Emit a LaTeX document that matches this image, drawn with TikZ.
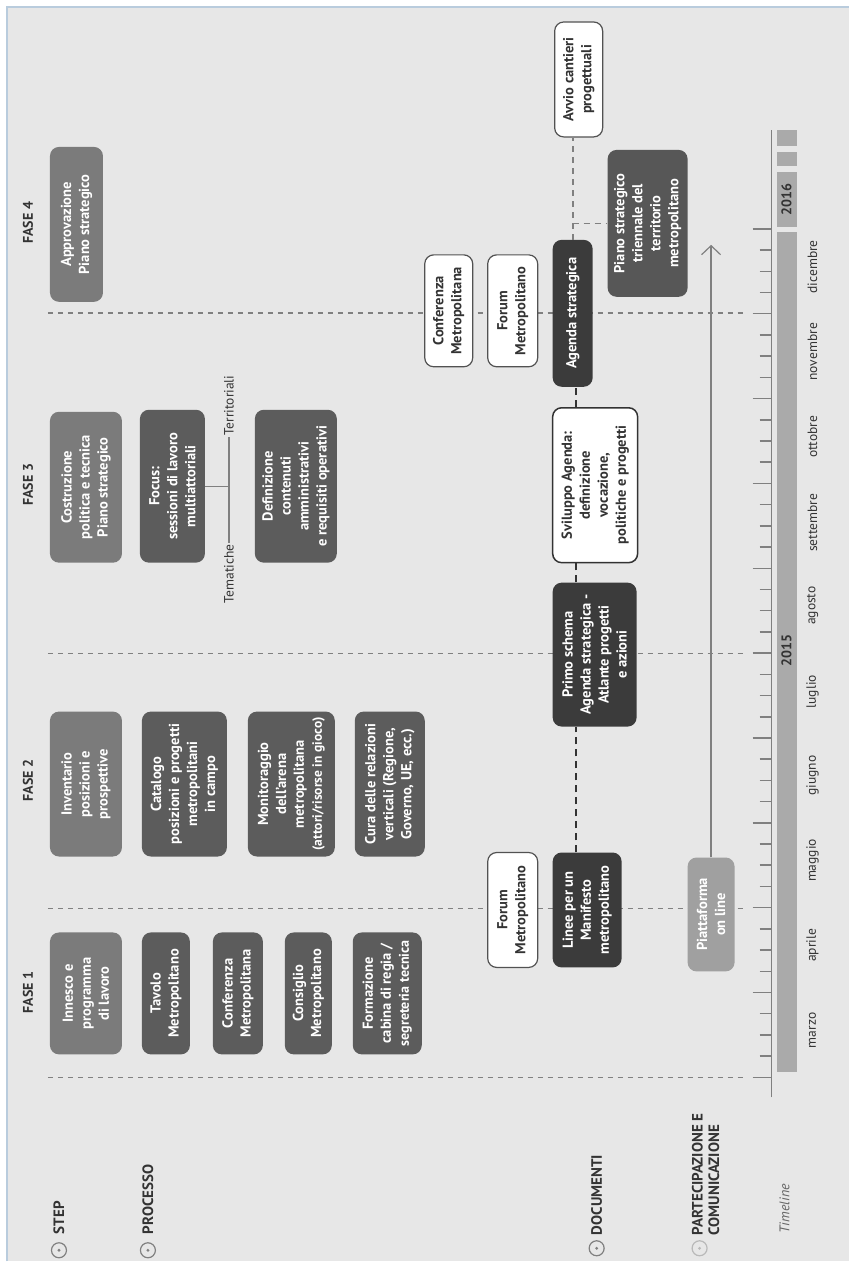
\documentclass[tikz,border=0pt]{standalone}
\usepackage{fontspec}
\setmainfont{PT Sans}
\usetikzlibrary{arrows.meta}
\definecolor{bgc}{HTML}{E7E7E7}
\definecolor{framec}{HTML}{B9CCDD}
\definecolor{stepc}{HTML}{7B7B7B}
\definecolor{procc}{HTML}{5C5C5C}
\definecolor{docc}{HTML}{3B3B3B}
\definecolor{pianoc}{HTML}{575757}
\definecolor{piatc}{HTML}{A0A0A0}
\definecolor{barc}{HTML}{AAAAAA}
\definecolor{txtc}{HTML}{333333}
\definecolor{linec}{HTML}{808080}
\begin{document}
\begin{tikzpicture}[x=1pt,y=-1pt,
  bx/.style={rotate=90, rounded corners=9pt, inner sep=1pt, align=center,
     font=\bfseries\fontsize{14.5}{18}\selectfont, text=white},
  stepbox/.style={bx, fill=stepc},
  procbox/.style={bx, fill=procc},
  docbox/.style={bx, fill=docc},
  whitebox/.style={bx, fill=white, draw=txtc!85, line width=1.2pt, text=txtc},
  sz/.style 2 args={minimum width=#1pt, minimum height=#2pt},
  phase/.style={draw=linec, line width=1.7pt, dash pattern=on 5pt off 5pt},
  docline/.style={draw=txtc, line width=2.2pt, dash pattern=on 7pt off 5pt},
  greydash/.style={draw=linec, line width=1.7pt, dash pattern=on 6pt off 5pt},
  lbl/.style={rotate=90, inner sep=0pt, font=\bfseries\fontsize{15}{16.5}\selectfont, text=txtc},
  fase/.style={rotate=90, inner sep=0pt, font=\bfseries\fontsize{14}{16}\selectfont, text=txtc},
  month/.style={rotate=90, inner sep=0pt, font=\fontsize{13.5}{14}\selectfont, text=txtc},
  year/.style={rotate=90, inner sep=0pt, font=\bfseries\fontsize{14}{16}\selectfont, text=txtc},
  mark/.style={circle, draw=#1, line width=1.2pt, minimum size=15pt, inner sep=0pt},
  mark/.default={linec},
]
% background and frame
\fill[white] (0,0) rectangle (849,1262);
\fill[bgc] (7,7) rectangle (849,1262);
\draw[framec, line width=1.5pt] (7,1262) -- (7,7) -- (849,7);
\useasboundingbox (0,0) rectangle (849,1262);

% phase separators
\draw[phase] (48,1078) -- (747,1078);
\draw[phase] (48,909) -- (747,909);
\draw[phase] (48,654) -- (747,654);
\draw[phase] (48,313) -- (747,313);

% timeline axis and ticks
\draw[linec, line width=1.5pt] (772,1098) -- (772,130);
\foreach \i in {0,...,40} {
  \pgfmathsetmacro\yy{1078-\i*21.225}
  \pgfmathtruncatemacro\mm{mod(\i,4)}
  \ifnum\mm=0
    \draw[linec, line width=1.5pt] (753,\yy) -- (771,\yy);
  \else
    \draw[linec, line width=1.5pt] (760,\yy) -- (771,\yy);
  \fi
}
\fill[barc] (777,232) rectangle (797,1073);
\fill[barc] (777,172) rectangle (797,227);
\fill[barc] (777,152) rectangle (797,166);
\fill[barc] (777,130) rectangle (797,146);
\node[year] (y2015) at (787,651) {2015};
\node[year] (y2016) at (787,200) {2016};

% months
\node[month] (m1) at (813,1031) {marzo};
\node[month] (m2) at (813,946) {aprile};
\node[month] (m3) at (813,861) {maggio};
\node[month] (m4) at (813,776) {giugno};
\node[month] (m5) at (813,692) {luglio};
\node[month] (m6) at (813,606) {agosto};
\node[month] (m7) at (813,523) {settembre};
\node[month] (m8) at (813,437) {ottobre};
\node[month] (m9) at (813,352) {novembre};
\node[month] (m10) at (813,267) {dicembre};

% left labels
\node[lbl, anchor=west] (lstep) at (59,1235) {STEP};
\node[lbl, anchor=west] (lproc) at (148,1235) {PROCESSO};
\node[lbl, anchor=west] (ldoc) at (597,1236) {DOCUMENTI};
\node[lbl, anchor=west, align=left] (lpart) at (706,1236) {PARTECIPAZIONE E\\COMUNICAZIONE};
\node[rotate=90, anchor=west, inner sep=0pt, font=\itshape\fontsize{14}{16}\selectfont, text=txtc!75] (ltime) at (785,1234) {Timeline};
\node[mark] (c1) at (59,1251) {};
\node[mark] (c2) at (148,1251) {};
\node[mark] (c3) at (597,1249) {};
\node[mark=linec!55] (c4) at (700,1249) {};
\fill[linec] (c1.center) circle (1.6);
\fill[linec] (c2.center) circle (1.6);
\fill[linec] (c3.center) circle (1.6);
\fill[linec!55] (c4.center) circle (1.6);

% phase titles
\node[fase] (f1) at (28,993) {FASE 1};
\node[fase] (f2) at (28,781) {FASE 2};
\node[fase] (f3) at (28,485) {FASE 3};
\node[fase] (f4) at (28,223) {FASE 4};

% step row
\node[stepbox, sz={122}{72}] (innesco) at (86,994) {Innesco e\\programma\\di lavoro};
\node[stepbox, sz={145}{72}] (inventario) at (86,784.5) {Inventario\\posizioni e\\prospettive};
\node[stepbox, sz={151}{72}] (costruzione) at (86,487.5) {Costruzione\\politica e tecnica\\Piano strategico};
\node[stepbox, sz={155}{53}] (approvazione) at (76.5,224.5) {Approvazione\\Piano strategico};

% process
\node[procbox, sz={122}{48}] (tavolo) at (166,994) {Tavolo\\Metropolitano};
\node[procbox, sz={122}{50}] (conf1) at (238,994) {Conferenza\\Metropolitana};
\node[procbox, sz={122}{47}] (consiglio) at (308.5,994) {Consiglio\\Metropolitano};
\node[procbox, sz={122}{69}] (formazione) at (387.5,994) {Formazione\\cabina di regia /\\{\fontsize{14}{18}\selectfont segreteria tecnica}};
\node[procbox, sz={145}{85}] (catalogo) at (184.5,784.5) {Catalogo\\posizioni e progetti\\metropolitani\\in campo};
\node[procbox, sz={145}{87}] (monitor) at (291.5,784.5) {Monitoraggio\\dell'arena\\metropolitana\\{\fontsize{13.5}{18}\selectfont(attori/risorse in gioco)}};
\node[procbox, sz={145}{70}] (cura) at (390,784.5) {Cura delle relazioni\\verticali (Regione,\\Governo, UE, ecc.)};
\node[procbox, sz={153}{65}] (focus) at (172.5,486.5) {Focus:\\sessioni di lavoro\\multiattoriali};
\node[procbox, sz={153}{82}] (definizione) at (296,486.5) {Definizione\\contenuti\\amministrativi\\e requisiti operativi};

% Tematiche / Territoriali
\node[rotate=90, anchor=east, inner sep=1.5pt, font=\fontsize{13.5}{14}\selectfont, text=txtc] (tem) at (229,543) {Tematiche};
\node[rotate=90, anchor=west, inner sep=1.5pt, font=\fontsize{13.5}{14}\selectfont, text=txtc] (ter) at (229,437) {Territoriali};
\draw[linec, line width=1.4pt] (tem.east) -- (ter.west);
\draw[linec, line width=1.4pt] (focus.south) -- (focus.south -| tem.east);

% documents / participation
\node[whitebox, sz={115}{50}] (forum1) at (513,910.5) {Forum\\Metropolitano};
\node[docbox, sz={115}{69}] (linee) at (587.5,910.5) {Linee per un\\Manifesto\\metropolitano};
\node[docbox, sz={144}{84}] (primo) at (595,655) {Primo schema\\Agenda strategica -\\Atlante progetti\\e azioni};
\node[whitebox, draw=txtc, line width=1.5pt, sz={155}{85}] (sviluppo) at (595.5,485.5) {Sviluppo Agenda:\\definizione\\vocazione,\\politiche e progetti};
\node[whitebox, sz={112}{48}] (conf2) at (449,311) {Conferenza\\Metropolitana};
\node[whitebox, sz={112}{50}] (forum2) at (513,311) {Forum\\Metropolitano};
\node[docbox, sz={147}{40}] (agenda) at (573,313.5) {Agenda strategica};
\node[bx, fill=pianoc, sz={147}{80}] (piano) at (648,223.5) {Piano strategico\\triennale del\\territorio\\metropolitano};
\node[whitebox, sz={115}{48}] (avvio) at (579,79.5) {Avvio cantieri\\progettuali};
\node[bx, fill=piatc, sz={114}{47}] (piatt) at (711.5,915) {Piattaforma\\on line};

% connectors
\coordinate (dl) at (576,0);
\draw[docline] (linee.east -| dl) -- (primo.west -| dl);
\draw[docline] (primo.east -| dl) -- (sviluppo.west -| dl);
\draw[docline] (sviluppo.east -| dl) -- (agenda.west -| dl);
\draw[greydash] (agenda.east) -- (agenda.east |- avvio.west);
\draw[greydash] (piano.north -| agenda.east) -- (piano.north);
\coordinate (arrowtip) at (711.5,245);
\draw[linec, line width=1.2pt, -{Straight Barb[length=9pt,width=19pt]}] (piatt.east) -- (arrowtip);
\end{tikzpicture}
\end{document}
